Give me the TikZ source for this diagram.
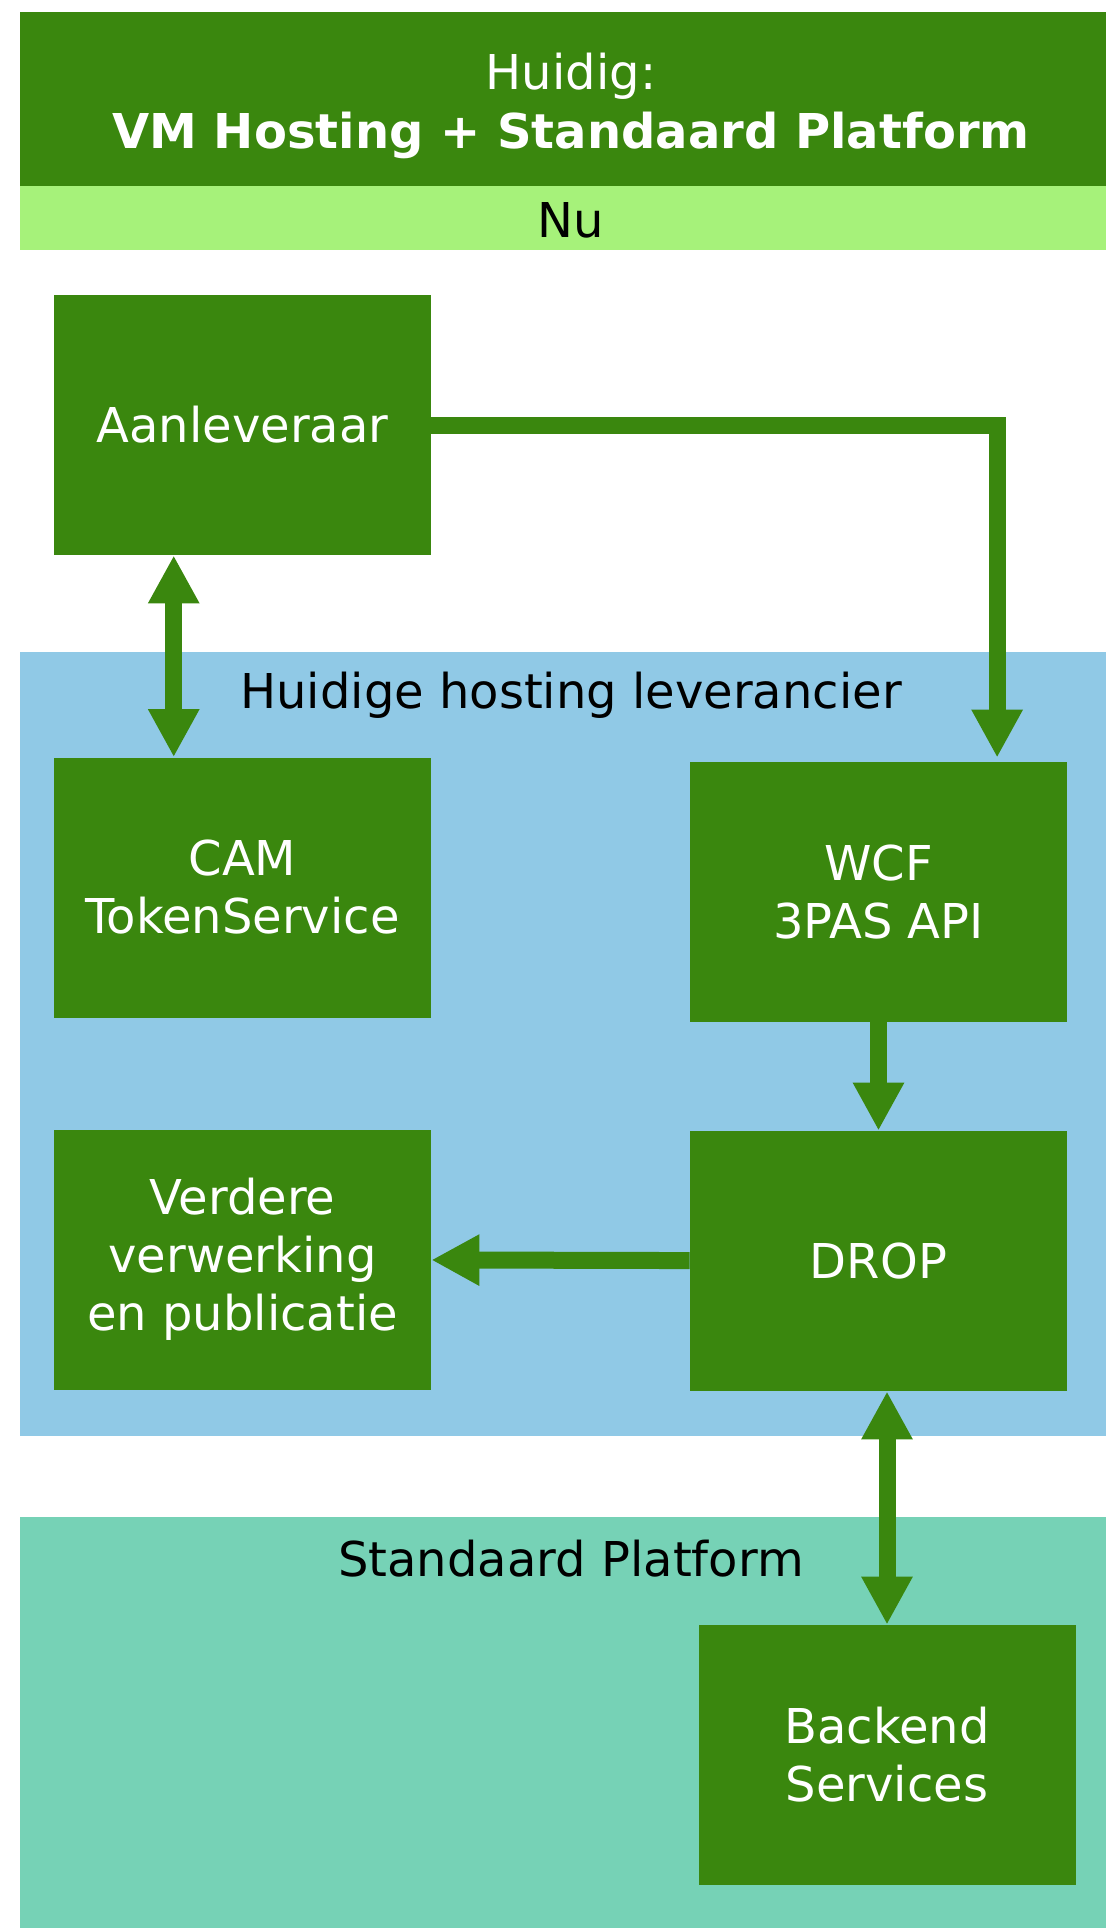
\documentclass[tikz,border=0pt]{standalone}
\usepackage{fontspec}
\setmainfont{DejaVu Sans}
\usepackage{xcolor}
\usepackage{tikz}
\usetikzlibrary{arrows.meta, calc}

\definecolor{boxgreen}{HTML}{3A870E}
\definecolor{nugreen}{HTML}{A6F27A}
\definecolor{hostblue}{HTML}{90C9E6}
\definecolor{platteal}{HTML}{76D2B6}

\tikzset{
  box/.style={fill=boxgreen, text=white, minimum width=188.5pt,
    minimum height=130pt, inner sep=0pt, align=center,
    font=\fontsize{24}{29}\selectfont},
  heading/.style={font=\fontsize{24}{29}\selectfont, anchor=base, inner sep=0pt},
  flow/.style={draw=boxgreen, line width=8.5pt,
    -{Triangle[length=24pt,width=24pt]}},
  flowboth/.style={draw=boxgreen, line width=8.5pt,
    {Triangle[length=24pt,width=24pt]}-{Triangle[length=24pt,width=24pt]}},
}

\begin{document}
\begin{tikzpicture}[x=0.5pt,y=-0.5pt]
  \useasboundingbox (0,0) rectangle (1106,1928);
  % bands
  \fill[boxgreen] (20,12) rectangle (1106,186);
  \fill[nugreen] (20,186) rectangle (1106,250);
  \fill[hostblue] (20,652) rectangle (1106,1436);
  \fill[platteal] (20,1517) rectangle (1106,1928);

  % headings
  \node[align=center, text=white, inner sep=0pt,
    font=\fontsize{24}{29.5}\selectfont] (title) at (571,106)
    {Huidig:\\\textbf{VM Hosting + Standaard Platform}};
  \node[heading] (nu) at (571,237) {Nu};
  \node[heading] (hosting) at (571,708) {Huidige hosting leverancier};
  \node[heading] (platform) at (571,1576) {Standaard Platform};

  % boxes
  \node[box] (aan) at (242.5,425) {Aanleveraar};
  \node[box] (cam) at (242.5,887.5) {CAM\\TokenService};
  \node[box] (wcf) at (878.5,892) {WCF\\3PAS API};
  \node[box] (drop) at (878.5,1261) {DROP};
  \node[box] (verd) at (242.5,1259.5) {Verdere\\verwerking\\en publicatie};
  \node[box] (back) at (887,1755) {Backend\\Services};

  % connectors
  \draw[flow] (aan.east) -| ([yshift=2pt]$(wcf.north west)!0.814!(wcf.north east)$);
  \draw[flowboth] ($(aan.south west)!0.318!(aan.south east)$)
    -- ($(cam.north west)!0.318!(cam.north east)$);
  \draw[flow] (wcf) -- (drop);
  \draw[flow] (drop) -- (verd);
  \draw[flowboth] (drop.south -| back.north) -- (back.north);
\end{tikzpicture}
\end{document}
